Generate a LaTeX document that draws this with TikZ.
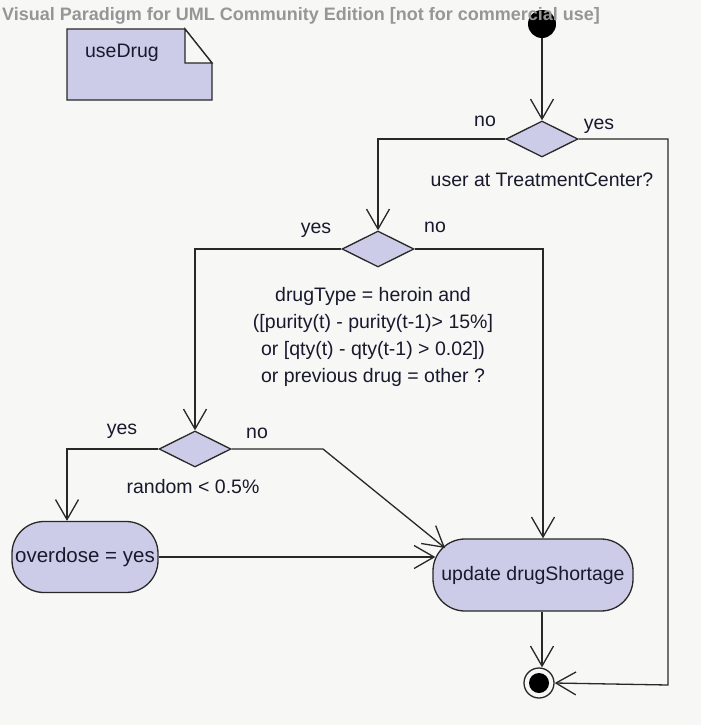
\documentclass[tikz,border=0pt]{standalone}
\usepackage{fontspec}
\setmainfont{Liberation Sans}
\usetikzlibrary{arrows.meta,shapes.geometric}
\definecolor{bg}{RGB}{247,247,245}
\definecolor{lav}{RGB}{204,204,232}
\definecolor{ln}{RGB}{40,40,40}
\definecolor{txt}{RGB}{25,25,45}
\definecolor{ttl}{RGB}{150,150,150}
\begin{document}
\begin{tikzpicture}[x=1pt,y=-1pt,
  lbl/.style={font=\fontsize{19.5}{27}\selectfont, text=txt, inner sep=0pt},
  dec/.style={diamond, draw=ln, fill=lav, line width=1.3pt, minimum width=72pt, minimum height=36pt, inner sep=0pt},
  act/.style={rectangle, draw=ln, fill=lav, line width=1.3pt, rounded corners=32pt, lbl},
  initnode/.style={circle, fill=black, minimum size=28pt, inner sep=0pt},
  finnode/.style={circle, draw=ln, fill=bg, line width=1.3pt, minimum size=30pt, inner sep=0pt},
  flow/.style={draw=ln, line width=1.3pt, -{Straight Barb[length=20pt,width=23pt,line width=1.3pt]}},
  plain/.style={draw=ln, line width=1.3pt},
]
\fill[bg] (0,0) rectangle (701,725);
\useasboundingbox (0,0) rectangle (701,725);

% note
\path[plain, fill=lav] (67,29) -- (185,29) -- (212,63) -- (212,100) -- (67,100) -- cycle;
\path[plain, fill=bg] (185,29) -- (185,63) -- (212,63) -- cycle;
\node[lbl] (note) at (122,53) {useDrug};

% nodes
\node[initnode] (init) at (542,24) {};
\node[dec] (d1) at (542,139) {};
\node[dec] (d2) at (378,249) {};
\node[dec] (d3) at (195,449) {};
\node[act, minimum width=200pt, minimum height=72pt] (upd) at (533,575) {update drugShortage};
\node[act, minimum width=146pt, minimum height=71pt, font=\fontsize{20.5}{27}\selectfont] (od) at (85,557) {overdose = yes};
\node[finnode] (fin) at (539,683) {};
\fill[black] (fin) circle (10pt);

% title watermark (printed over the initial node)
\node[font=\bfseries\fontsize{18}{20}\selectfont, text=ttl, anchor=west, inner sep=0pt] (title) at (2,16) {Visual Paradigm for UML Community Edition [not for commercial use]};

% labels
\node[lbl] (d1no) at (485,121) {no};
\node[lbl] (d1yes) at (599,126) {yes};
\node[lbl] (d1q) at (542,180) {user at TreatmentCenter?};
\node[lbl] (d2yes) at (316,230) {yes};
\node[lbl] (d2no) at (435,227) {no};
\node[lbl, align=center] (d2q) at (373,337) {drugType = heroin and\\([purity(t) - purity(t-1)> 15\%]\\or [qty(t) - qty(t-1) > 0.02])\\or previous drug = other ?};
\node[lbl] (d3yes) at (122,431) {yes};
\node[lbl] (d3no) at (257,433) {no};
\node[lbl] (d3q) at (193,487) {random < 0.5\%};

% connectors
\coordinate (rc) at (668,685);
\coordinate (kink) at (323,449);
\coordinate (notip) at (445,548);
\draw[flow] (init) -- (d1.north);
\draw[flow] (d1.west) -| (d2.north);
\draw[flow] (d1.east) -| (rc) -- (fin.east);
\draw[flow] (d2.west) -| (d3.north);
\draw[flow] (d2.east) -| ([xshift=10pt]upd.north);
\draw[flow] (d3.west) -| ([xshift=-18pt]od.north);
\draw[flow] (d3.east) -- (kink) -- (notip);
\draw[flow] (od.east) -- ([xshift=3pt]od.east -| upd.west);
\draw[flow] ([xshift=3pt]fin |- upd.south) -- ([xshift=3pt]fin.north);
\end{tikzpicture}
\end{document}
